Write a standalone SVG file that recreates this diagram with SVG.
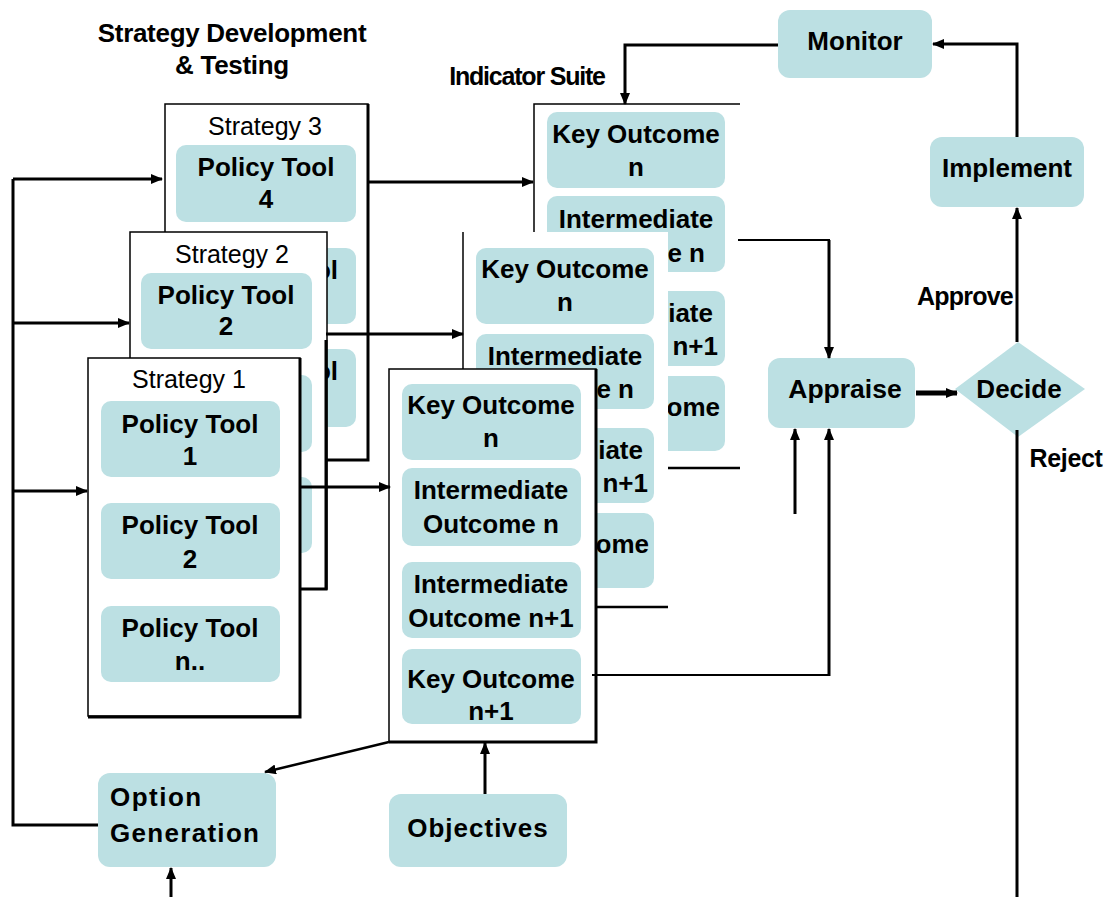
<svg xmlns="http://www.w3.org/2000/svg" width="1107" height="897" viewBox="0 0 1107 897">
<style>
.bx{fill:#bce0e3}
.fr{fill:#fff;stroke:#000;stroke-width:1.5}
.sh{stroke:#000;stroke-width:3;fill:none}
.ln{stroke:#000;stroke-width:1.5;fill:none}
.t{font-family:"Liberation Sans",Arial,sans-serif;font-weight:bold;font-size:26px;text-anchor:middle;fill:#000}
.e{text-anchor:end}
.s{font-family:"Liberation Sans",Arial,sans-serif;font-size:25px;text-anchor:middle;fill:#000}
.h{font-family:"Liberation Sans",Arial,sans-serif;font-weight:bold;font-size:26px;fill:#000}
.c{stroke:#000;stroke-width:3;fill:none}
.c2{stroke:#000;stroke-width:2;fill:none}
</style>
<defs>
<marker id="ah" markerWidth="12" markerHeight="10" refX="11" refY="5" orient="auto" markerUnits="userSpaceOnUse"><path d="M0,0 L12,5 L0,10 z" fill="#000"/></marker>
</defs>
<rect width="1107" height="897" fill="#fff"/>

<g id="titles">
<text class="h" x="232" y="42" text-anchor="middle" style="letter-spacing:-0.3px">Strategy Development</text>
<text class="h" x="232" y="74" text-anchor="middle" style="letter-spacing:-0.3px">&amp; Testing</text>
<text class="h" x="527" y="85" text-anchor="middle" style="font-size:25px;letter-spacing:-1.2px">Indicator Suite</text>
</g>

<g id="strategy3">
<rect class="fr" x="165" y="104" width="203" height="356"/>
<path class="sh" d="M368,104 V460 H327"/>
<text class="s" x="265" y="135">Strategy 3</text>
<rect class="bx" x="176" y="145" width="180" height="77" rx="10"/>
<text class="t" x="266" y="176">Policy Tool</text>
<text class="t" x="266" y="208">4</text>
<rect class="bx" x="176" y="248" width="180" height="76" rx="10"/>
<text class="t e" x="338" y="279">ol</text>
<rect class="bx" x="176" y="349" width="180" height="78" rx="10"/>
<text class="t e" x="338" y="380">ol</text>
</g>

<g id="strategy2">
<rect class="fr" x="130" y="232" width="197" height="357"/>
<path class="sh" d="M326,340 V589 H300"/>
<text class="s" x="232" y="263">Strategy 2</text>
<rect class="bx" x="141" y="273" width="171" height="76" rx="10"/>
<text class="t" x="226" y="304">Policy Tool</text>
<text class="t" x="226" y="335">2</text>
<rect class="bx" x="141" y="375" width="171" height="77" rx="10"/>
<rect class="bx" x="141" y="477" width="171" height="76" rx="10"/>
</g>

<g id="strategy1">
<rect class="fr" x="88" y="358" width="212" height="358"/>
<path class="sh" d="M300,358 V717 H88"/>
<text class="s" x="189" y="388">Strategy 1</text>
<rect class="bx" x="101" y="401" width="179" height="76" rx="10"/>
<text class="t" x="190" y="433">Policy Tool</text>
<text class="t" x="190" y="465">1</text>
<rect class="bx" x="101" y="503" width="179" height="76" rx="10"/>
<text class="t" x="190" y="534">Policy Tool</text>
<text class="t" x="190" y="568">2</text>
<rect class="bx" x="101" y="606" width="179" height="76" rx="10"/>
<text class="t" x="190" y="637">Policy Tool</text>
<text class="t" x="190" y="670">n..</text>
</g>

<g id="indicators3">
<rect x="534" y="104" width="206" height="364" fill="#fff"/>
<path class="ln" d="M534,232 V104 H740"/>
<path class="c2" d="M668,468 H740" style="stroke-width:2.5"/>
<rect class="bx" x="547" y="112" width="178" height="76" rx="10"/>
<text class="t" x="636" y="143">Key Outcome</text>
<text class="t" x="636" y="176">n</text>
<rect class="bx" x="547" y="196" width="178" height="76" rx="10"/>
<text class="t" x="636" y="228">Intermediate</text>
<text class="t e" x="705" y="262">e n</text>
<rect class="bx" x="547" y="291" width="178" height="75" rx="10"/>
<text class="t e" x="713" y="322">iate</text>
<text class="t e" x="718" y="355">n+1</text>
<rect class="bx" x="547" y="376" width="178" height="75" rx="10"/>
<text class="t e" x="720" y="416">ome</text>
</g>

<g id="indicators2">
<rect x="463" y="232" width="205" height="375" fill="#fff"/>
<path class="ln" d="M463,232 V369"/>
<path class="c2" d="M597,607 H668" style="stroke-width:2.5"/>
<rect class="bx" x="476" y="248" width="178" height="76" rx="10"/>
<text class="t" x="565" y="278">Key Outcome</text>
<text class="t" x="565" y="311">n</text>
<rect class="bx" x="476" y="334" width="178" height="75" rx="10"/>
<text class="t" x="565" y="365">Intermediate</text>
<text class="t e" x="634" y="398">e n</text>
<rect class="bx" x="476" y="428" width="178" height="75" rx="10"/>
<text class="t e" x="643" y="459">iate</text>
<text class="t e" x="648" y="492">n+1</text>
<rect class="bx" x="476" y="513" width="178" height="75" rx="10"/>
<text class="t e" x="649" y="553">ome</text>
</g>

<g id="indicators1">
<rect class="fr" x="389" y="369" width="207" height="373"/>
<path class="sh" d="M596,369 V742 H389"/>
<rect class="bx" x="402" y="384" width="179" height="76" rx="10"/>
<text class="t" x="491" y="414">Key Outcome</text>
<text class="t" x="491" y="447">n</text>
<rect class="bx" x="402" y="468" width="179" height="78" rx="10"/>
<text class="t" x="491" y="499">Intermediate</text>
<text class="t" x="491" y="533">Outcome n</text>
<rect class="bx" x="402" y="562" width="179" height="76" rx="10"/>
<text class="t" x="491" y="593">Intermediate</text>
<text class="t" x="491" y="627">Outcome n+1</text>
<rect class="bx" x="402" y="649" width="179" height="75" rx="10"/>
<text class="t" x="491" y="688">Key Outcome</text>
<text class="t" x="491" y="720">n+1</text>
</g>

<g id="monitor">
<rect class="bx" x="778" y="10" width="154" height="68" rx="12"/>
<text class="t" x="855" y="50">Monitor</text>
</g>
<g id="implement">
<rect class="bx" x="930" y="137" width="154" height="70" rx="12"/>
<text class="t" x="1007" y="177">Implement</text>
</g>
<g id="appraise">
<rect class="bx" x="768" y="358" width="147" height="70" rx="12"/>
<text class="t" x="845" y="398" style="font-size:26.5px">Appraise</text>
</g>
<g id="decide">
<polygon class="bx" points="1018,342 1085,389 1018,437 955,389"/>
<text class="t" x="1019" y="398">Decide</text>
</g>
<g id="option-generation">
<rect class="bx" x="98" y="773" width="178" height="94" rx="12"/>
<text class="h" x="110" y="806" style="letter-spacing:1.5px">Option</text>
<text class="h" x="110" y="842" style="letter-spacing:1.3px">Generation</text>
</g>
<g id="objectives">
<rect class="bx" x="389" y="794" width="178" height="73" rx="12"/>
<text class="t" x="478" y="837" style="letter-spacing:1px">Objectives</text>
</g>

<g id="connectors">
<path class="c" d="M98,825 H13 V179"/>
<path class="c" d="M13,179 H162" marker-end="url(#ah)"/>
<path class="c" d="M13,323 H129" marker-end="url(#ah)"/>
<path class="c" d="M13,491 H87" marker-end="url(#ah)"/>
<path class="c" d="M368,182 H533" marker-end="url(#ah)"/>
<path class="c" d="M326,334 H463" marker-end="url(#ah)"/>
<path class="c" d="M300,487 H390" marker-end="url(#ah)"/>
<path class="c" d="M778,45 H625 V104" marker-end="url(#ah)"/>
<path class="c" d="M1017,137 V44 H933" marker-end="url(#ah)"/>
<path class="c" d="M1017,342 V208" marker-end="url(#ah)"/>
<path class="c" d="M1017,430 V897"/>
<path class="c" d="M916,393 H957" style="stroke-width:5" marker-end="url(#ah)"/>
<path class="c2" d="M738,240 H830"/>
<path class="c" d="M829,240 V358" marker-end="url(#ah)"/>
<path class="c2" d="M592,675 H830"/>
<path class="c" d="M829,676 V429" marker-end="url(#ah)"/>
<path class="c" d="M795,514 V429" marker-end="url(#ah)"/>
<path class="c" d="M485,794 V743" marker-end="url(#ah)"/>
<path class="c" d="M389,742 L265,772" style="stroke-width:2.5" marker-end="url(#ah)"/>
<path class="c" d="M171,897 V868" marker-end="url(#ah)"/>
</g>

<g id="labels">
<text class="h" x="965" y="305" text-anchor="middle" style="font-size:25px;letter-spacing:-0.8px">Approve</text>
<text class="h" x="1066" y="467" text-anchor="middle" style="font-size:25px;letter-spacing:-0.3px">Reject</text>
</g>
</svg>
